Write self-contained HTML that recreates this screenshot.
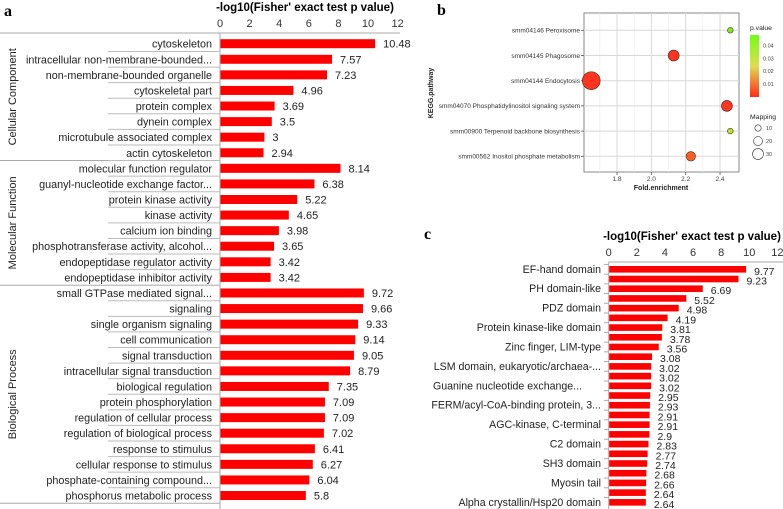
<!DOCTYPE html>
<html><head><meta charset="utf-8"><style>
html,body{margin:0;padding:0;background:#fff;width:783px;height:509px;overflow:hidden}
svg{display:block}
text{font-family:"Liberation Sans",sans-serif}
text.letter{font-family:"Liberation Serif",serif;font-weight:bold}
</style></head><body>
<svg id="fig" width="783" height="509" viewBox="0 0 783 509">
<text class="letter" x="4" y="16" font-size="16">a</text>
<text class="letter" x="437" y="15" font-size="16">b</text>
<text class="letter" x="424" y="239" font-size="16">c</text>
<g id="pa"></g>
<g id="pb"></g>
<g id="pc"></g>
</svg>
<script>
const aCategories=["cytoskeleton","intracellular non-membrane-bounded...","non-membrane-bounded organelle","cytoskeletal part","protein complex","dynein complex","microtubule associated complex","actin cytoskeleton","molecular function regulator","guanyl-nucleotide exchange factor...","protein kinase activity","kinase activity","calcium ion binding","phosphotransferase activity, alcohol...","endopeptidase regulator activity","endopeptidase inhibitor activity","small GTPase mediated signal...","signaling","single organism signaling","cell communication","signal transduction","intracellular signal transduction","biological regulation","protein phosphorylation","regulation of cellular process","regulation of biological process","response to stimulus","cellular response to stimulus","phosphate-containing compound...","phosphorus metabolic process"];
const aValues=[10.48,7.57,7.23,4.96,3.69,3.5,3,2.94,8.14,6.38,5.22,4.65,3.98,3.65,3.42,3.42,9.72,9.66,9.33,9.14,9.05,8.79,7.35,7.09,7.09,7.02,6.41,6.27,6.04,5.8];
const aLabels=["10.48","7.57","7.23","4.96","3.69","3.5","3","2.94","8.14","6.38","5.22","4.65","3.98","3.65","3.42","3.42","9.72","9.66","9.33","9.14","9.05","8.79","7.35","7.09","7.09","7.02","6.41","6.27","6.04","5.8"];
const aGroups=["Cellular Component","Molecular Function","Biological Process"];
const aGroupSizes=[8,8,14];
const aTicks=[0,2,4,6,8,10,12];

const bPathways=["smm04146 Peroxisome","smm04145 Phagosome","smm04144 Endocytosis","smm04070 Phosphatidylinositol signaling system","smm00900 Terpenoid backbone biosynthesis","smm00562 Inositol phosphate metabolism"];
const bFold=[2.46,2.13,1.65,2.44,2.46,2.23];
const bPvalue=[0.042,0.002,0.002,0.002,0.032,0.007];
const bMapping=[8,30,80,30,8,22];
const bTicks=[1.8,2.0,2.2,2.4];
const bPTicks=[0.04,0.03,0.02,0.01];
const bMapTicks=[10,20,30];

const cCategories=["EF-hand domain","","PH domain-like","","PDZ domain","","Protein kinase-like domain","","Zinc finger, LIM-type","","LSM domain, eukaryotic/archaea-...","","Guanine nucleotide exchange...","","FERM/acyl-CoA-binding protein, 3...","","AGC-kinase, C-terminal","","C2 domain","","SH3 domain","","Myosin tail","","Alpha crystallin/Hsp20 domain"];
const cValues=[9.77,9.23,6.69,5.52,4.98,4.19,3.81,3.78,3.56,3.08,3.02,3.02,3.02,2.95,2.93,2.91,2.91,2.9,2.83,2.77,2.74,2.68,2.66,2.64,2.64];
const cLabels=["9.77","9.23","6.69","5.52","4.98","4.19","3.81","3.78","3.56","3.08","3.02","3.02","3.02","2.95","2.93","2.91","2.91","2.9","2.83","2.77","2.74","2.68","2.66","2.64","2.64"];
const cTicks=[0,2,4,6,8,10,12];

const NS="http://www.w3.org/2000/svg";
function mk(parent,tag,attrs,txt){const e=document.createElementNS(NS,tag);for(const k in attrs)e.setAttribute(k,attrs[k]);if(txt!==undefined)e.textContent=txt;parent.appendChild(e);return e;}

// ---- Panel a ----
(function(){
const g=document.getElementById('pa');
const x=v=>220+v*14.8;
const y=i=>43.7+i*15.58;
let t=mk(g,'text',{x:305,y:11,'font-size':11.5,'font-weight':'bold','text-anchor':'middle'},"-log10(Fisher' exact test p value)");


aTicks.forEach(v=>{const e=mk(g,'text',{x:x(v),y:27,'font-size':11,'text-anchor':'middle',fill:'#333'},String(v));

});
mk(g,'line',{x1:0,y1:33,x2:400,y2:33,stroke:'#aaa','stroke-width':1});
mk(g,'line',{x1:220,y1:33,x2:220,y2:509,stroke:'#aaa','stroke-width':1});
let start=0;
aGroupSizes.forEach((n,gi)=>{
  const top=gi===0?33:y(start-0.5), bot=y(start+n-0.5);
  mk(g,'line',{x1:0,y1:bot,x2:220,y2:bot,stroke:'#aaa','stroke-width':1});
  const cy=(top+Math.min(bot,509))/2;
  const e=mk(g,'text',{x:0,y:0,'font-size':11,'text-anchor':'middle',transform:`translate(16,${cy}) rotate(-90)`,fill:'#222'},aGroups[gi]);
  
  
  start+=n;
});
aCategories.forEach((c,i)=>{
  if(i<aCategories.length-1) mk(g,'line',{x1:108,y1:y(i+0.5),x2:220,y2:y(i+0.5),stroke:'#bbb','stroke-width':1});
  const l=mk(g,'text',{x:212,y:y(i)+4,'font-size':10.8,'text-anchor':'end',fill:'#222'},c);
  
  
  const b=mk(g,'rect',{x:220.5,y:y(i)-4.5,width:x(aValues[i])-220.5,height:9,fill:'#ff0000'});
  
  
  const v=mk(g,'text',{x:x(aValues[i])+8,y:y(i)+4,'font-size':11,fill:'#222'},aLabels[i]);
  
  
});
})();

// ---- Panel b ----
(function(){
const g=document.getElementById('pb');
const L=584,R=739,T=13,B=172;
const x=v=>617+(v-1.8)*171.7;
const y=i=>30.3+i*25.2;
mk(g,'rect',{x:L,y:T,width:R-L,height:B-T,fill:'#fff',stroke:'#888','stroke-width':1});
[1.7,1.9,2.1,2.3].forEach(v=>{mk(g,'line',{x1:x(v),y1:T,x2:x(v),y2:B,stroke:'#ececec','stroke-width':0.7});});
bTicks.forEach(v=>{mk(g,'line',{x1:x(v),y1:T,x2:x(v),y2:B,stroke:'#d8d8d8','stroke-width':1});
  mk(g,'line',{x1:x(v),y1:B,x2:x(v),y2:B+3,stroke:'#555','stroke-width':0.8});
  const e=mk(g,'text',{x:x(v),y:B+9,'font-size':6.5,'text-anchor':'middle',fill:'#444'},v.toFixed(1));
  
  });
const colorOf=p=>{const s=Math.min(p/0.045,1);let r,gg;if(s<0.5){r=255;gg=Math.round(35+s*2*185);}else{r=Math.round(255-(s-0.5)*2*140);gg=Math.round(220+(s-0.5)*2*15);}return `rgb(${r},${gg},30)`;};
const rad=m=>Math.sqrt(m)*1.0;
bPathways.forEach((p,i)=>{
  mk(g,'line',{x1:L,y1:y(i),x2:R,y2:y(i),stroke:'#d8d8d8','stroke-width':1});
  mk(g,'line',{x1:L-3,y1:y(i),x2:L,y2:y(i),stroke:'#555','stroke-width':0.8});
  const e=mk(g,'text',{x:L-4,y:y(i)+2.3,'font-size':6.5,'text-anchor':'end',fill:'#333'},p);
  
  
  const c=mk(g,'circle',{cx:x(bFold[i]),cy:y(i),r:rad(bMapping[i]),fill:colorOf(bPvalue[i]),stroke:'#333','stroke-width':0.6});
  
  
});
let e=mk(g,'text',{x:0,y:0,'font-size':7,'font-weight':'bold','text-anchor':'middle',transform:'translate(433,93) rotate(-90)',fill:'#222'},'KEGG.pathway');


e=mk(g,'text',{x:661,y:190,'font-size':7,'font-weight':'bold','text-anchor':'middle',fill:'#222'},'Fold.enrichment');


const defs=mk(g,'defs',{});
const lg=mk(defs,'linearGradient',{id:'pg',x1:0,y1:1,x2:0,y2:0});
mk(lg,'stop',{offset:'0','stop-color':'#ff2a1a'});
mk(lg,'stop',{offset:'0.5','stop-color':'#e0dc50'});
mk(lg,'stop',{offset:'1','stop-color':'#70ff10'});
e=mk(g,'text',{x:750,y:30,'font-size':6.8,fill:'#222'},'p.value');


const cb=mk(g,'rect',{x:750,y:35,width:9,height:62,fill:'url(#pg)'});


const py=p=>97-(p/0.048)*62;
bPTicks.forEach(p=>{const t=mk(g,'text',{x:763,y:py(p)+2,'font-size':5.5,fill:'#444'},p.toFixed(2));
  
  });
e=mk(g,'text',{x:750,y:119,'font-size':6.8,fill:'#222'},'Mapping');


bMapTicks.forEach((m,k)=>{const cy=128+k*13;
  const c=mk(g,'circle',{cx:758,cy:cy,r:rad(m),fill:'none',stroke:'#333','stroke-width':0.6});
  
  
  const t=mk(g,'text',{x:766,y:cy+2,'font-size':5.5,fill:'#444'},String(m));
  
  });
})();

// ---- Panel c ----
(function(){
const g=document.getElementById('pc');
const x=v=>608.7+v*14.06;
const y=i=>269.3+i*9.71;
let t=mk(g,'text',{x:692,y:240,'font-size':11.5,'font-weight':'bold','text-anchor':'middle'},"-log10(Fisher' exact test p value)");


cTicks.forEach(v=>{const e=mk(g,'text',{x:x(v),y:256,'font-size':11,'text-anchor':'middle',fill:'#333'},String(v));

});
mk(g,'line',{x1:608.7,y1:262,x2:783,y2:262,stroke:'#aaa','stroke-width':1});
mk(g,'line',{x1:608.7,y1:262,x2:608.7,y2:509,stroke:'#aaa','stroke-width':1});
cValues.forEach((v,i)=>{
  mk(g,'line',{x1:604,y1:y(i)-4.85,x2:608.7,y2:y(i)-4.85,stroke:'#aaa','stroke-width':1});
  if(cCategories[i]){
    const guan=cCategories[i].startsWith('Guanine');
    const l=mk(g,'text',{x:guan?582:601,y:y(i)+3.5,'font-size':10.6,'text-anchor':'end',fill:'#222'},cCategories[i]);
    
    
  }
  const b=mk(g,'rect',{x:609.2,y:y(i)-3.3,width:x(v)-609.2,height:6.6,fill:'#ff0000'});
  
  
  const lv=mk(g,'text',{x:x(v)+8,y:y(i)+5.5,'font-size':10.5,fill:'#222'},cLabels[i]);
  
  
});
})();
</script>
</body></html>
